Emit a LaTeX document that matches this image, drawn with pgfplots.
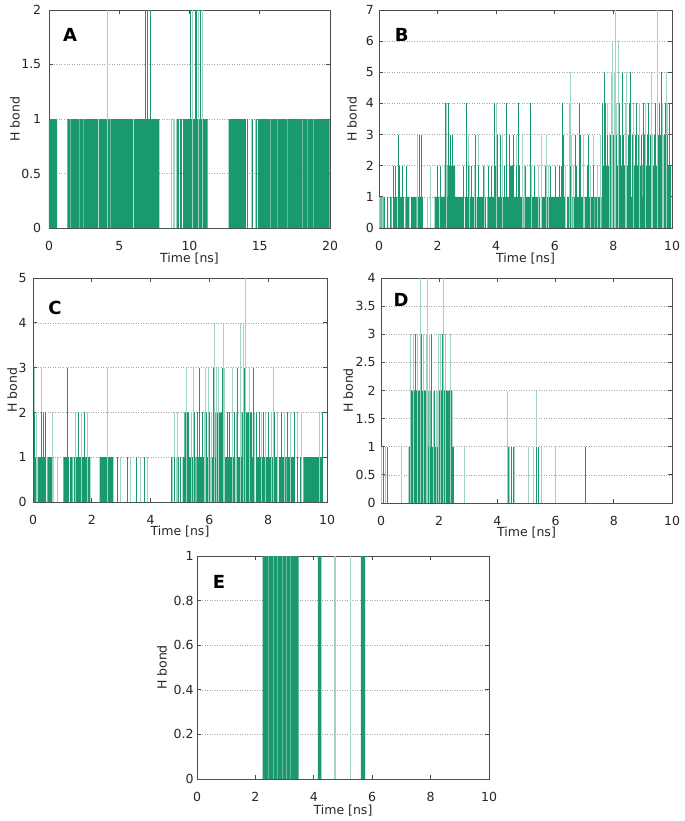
\documentclass[border=0pt]{standalone}
\usepackage{fontspec}
\setmainfont{DejaVu Sans}
\usepackage{pgfplots}
\pgfplotsset{compat=1.18}

\definecolor{hb}{RGB}{26,152,112}
\colorlet{hbl}{hb!42}
\colorlet{hbm}{hb!68}

\pgfplotsset{
  hbax/.style={
    scale only axis, anchor=north west,
    axis line style={black!70, line width=0.8bp},
    every tick/.style={black!70, line width=0.8bp},
    major tick length=4bp,
    ymajorgrids,
    grid style={black!35, line width=0.6bp, dash pattern=on 1bp off 1.5bp},
    tick label style={font=\fontsize{12.5bp}{14bp}\selectfont, text=black!85},
    xticklabel style={yshift=-9.8bp},
    label style={font=\fontsize{12.5bp}{14bp}\selectfont, text=black!85},
    /pgf/number format/assume math mode=true,
    xlabel={Time [ns]}, ylabel={H bond},
    xmin=0, xmax=10, xtick={0,2,...,10}, ymin=0,
  },
  fl/.style={const plot, fill=hb, draw=none},
  dk/.style={ycomb, color=hb, line width=1bp},
  lt/.style={ycomb, color=hbl, line width=1bp},
  md/.style={ycomb, color=hbm, line width=0.8bp},
}
\tikzset{letter/.style={font=\fontsize{18bp}{20bp}\selectfont\bfseries, text=black}}

\begin{document}
\begin{tikzpicture}
\useasboundingbox (0,0) rectangle (685bp,-821bp);

% ---------------- A ----------------
\begin{axis}[hbax, at={(49bp,-10bp)}, width=281bp, height=218bp,
  xmax=20, xtick={0,5,...,20}, ymax=2, ytick={0,0.5,1,1.5,2},
  yticklabel style={xshift=-4.3bp},
  xlabel style={at={(axis description cs:0.5,-0.138)}, anchor=center},
  ylabel style={at={(axis description cs:-0.121,0.5)}, anchor=center}]
\addplot[fl] coordinates {(0,1)(0.57,0)(1.31,1)(1.52,0)(1.56,1)(3.48,0)(3.54,1)
  (4.38,0)(4.43,1)(5.97,0)(6.02,1)(7.86,0)(9.55,1)(11.29,0)(12.79,1)(14.02,0)
  (14.86,1)(15.74,0)(15.78,1)(18.00,0)(18.04,1)(19.98,0)(20,0)} \closedcycle;
\addplot[md] coordinates {(2.14,1)(2.43,1)(16.24,1)(16.95,1)(18.38,1)(18.79,1)};
\addplot[lt] coordinates {(8.74,1)(8.83,1)(8.95,1)(9.05,1)(14.38,1)(14.70,1)
  (4.14,2)(10.19,2)(10.67,2)(10.90,2)};
\addplot[dk] coordinates {(9.17,1)(9.25,1)(9.35,1)(9.45,1)(14.14,1)(14.50,1)(14.78,1)
  (6.88,2)(6.98,2)(7.19,2)(10.05,2)(10.40,2)(10.52,2)(10.79,2)};
\node[letter] at (rel axis cs:0.075,0.885) {A};
\end{axis}

% ---------------- B ----------------
\begin{axis}[hbax, at={(379bp,-10bp)}, width=293bp, height=218bp,
  ymax=7, ytick={0,...,7},
  yticklabel style={xshift=-1.7bp},
  xlabel style={at={(axis description cs:0.5,-0.138)}, anchor=center},
  ylabel style={at={(axis description cs:-0.092,0.5)}, anchor=center}]
\addplot[fl] coordinates {(0,0)(0.05,1)(0.09,0)(0.15,1)(0.20,0)(0.28,1)(0.31,0)
  (0.38,1)(0.43,0)(0.50,1)(0.63,0)(0.66,1)(0.85,0)(0.90,1)(1.04,0)(1.10,1)(1.28,0)
  (1.33,1)(1.50,0)(1.90,1)(2.05,0)(2.08,1)(2.24,2)(2.30,1)(2.33,2)(2.60,1)(2.90,0)
  (2.93,1)(3.30,0)(3.33,1)(3.65,0)(3.70,1)(3.95,2)(4.05,1)(4.20,0)(4.23,1)(4.45,2)
  (4.60,1)(4.90,0)(4.93,1)(5.50,0)(5.53,1)(6.00,0)(6.03,1)(6.38,0)(6.42,1)(6.60,0)
  (6.62,1)(7.00,0)(7.03,1)(7.30,0)(7.35,1)(7.58,0)(7.60,1)(7.62,2)(7.70,1)(7.75,2)
  (8.20,1)(8.24,2)(8.60,1)(8.63,2)(9.00,1)(9.04,2)(9.30,1)(9.33,2)(9.97,0)(10,0)} \closedcycle;
\addplot[lt] coordinates {(0.02,1)(0.12,1)(1.65,1)
  (1.75,2)(3.10,2)(3.25,2)(3.60,2)(4.95,2)(5.20,2)(5.45,2)(5.78,2)(6.35,2)(6.64,2)
  (6.98,2)(7.21,2)(7.45,2)
  (1.33,3)(2.27,3)(3.05,3)(3.40,3)(3.93,3)(4.22,3)(4.68,3)(4.90,3)(5.55,3)(5.70,3)
  (6.58,3)(6.98,3)(7.32,3)(7.55,3)(7.85,3)(8.05,3)(8.40,3)(8.58,3)(8.90,3)(9.10,3)
  (9.35,3)(9.70,3)
  (2.31,4)(4.00,4)(6.50,4)(7.80,4)(7.92,4)(8.12,4)(8.40,4)(8.68,4)(8.90,4)(9.10,4)
  (9.30,4)(9.68,4)(9.85,4)
  (6.54,5)(7.94,5)(8.03,5)(8.17,5)(8.45,5)(9.31,5)(9.82,5)
  (7.96,6)(8.17,6)(8.08,7)(9.51,7)};
\addplot[dk] coordinates {
  (0.48,2)(0.57,2)(0.69,2)(0.80,2)(0.95,2)(1.37,2)(1.45,2)(2.00,2)(2.10,2)(2.90,2)
  (3.05,2)(3.15,2)(3.40,2)(3.55,2)(3.75,2)(3.85,2)(4.15,2)(4.30,2)(4.70,2)(4.80,2)
  (5.00,2)(5.30,2)(5.67,2)(5.84,2)(6.01,2)(6.16,2)(6.24,2)(6.52,2)(6.75,2)(6.86,2)
  (7.10,2)(7.32,2)
  (0.68,3)(1.37,3)(1.46,3)(2.38,3)(2.44,3)(2.50,3)(3.31,3)(4.04,3)(4.16,3)(4.45,3)
  (4.60,3)(6.30,3)(6.70,3)(6.86,3)(7.15,3)(7.62,3)(7.70,3)(7.80,3)(7.90,3)(8.00,3)
  (8.10,3)(8.25,3)(8.35,3)(8.50,3)(8.65,3)(8.75,3)(8.85,3)(8.95,3)(9.05,3)(9.15,3)
  (9.28,3)(9.40,3)(9.55,3)(9.62,3)(9.75,3)(9.85,3)(9.93,3)
  (2.26,4)(2.36,4)(2.98,4)(3.95,4)(4.35,4)(4.77,4)(5.18,4)(6.26,4)(6.85,4)(7.62,4)
  (7.72,4)(8.22,4)(8.55,4)(8.78,4)(9.02,4)(9.20,4)(9.42,4)(9.56,4)(9.78,4)(9.90,4)
  (7.68,5)(8.31,5)(8.59,5)(9.65,5)};
\node[letter] at (rel axis cs:0.078,0.885) {B};
\end{axis}

% ---------------- C ----------------
\begin{axis}[hbax, at={(33bp,-278bp)}, width=294bp, height=224bp,
  ymax=5, ytick={0,...,5},
  yticklabel style={xshift=-3bp},
  xlabel style={at={(axis description cs:0.5,-0.134)}, anchor=center},
  ylabel style={at={(axis description cs:-0.071,0.5)}, anchor=center}]
\addplot[fl] coordinates {(0,0)(0.02,1)(0.12,0)(0.16,1)(0.45,0)(0.49,1)(0.69,0)
  (1.03,1)(1.22,0)(1.26,1)(1.35,0)(1.39,1)(1.95,0)(2.27,1)(2.73,0)(5.09,1)(5.15,2)
  (5.30,1)(5.53,0)(5.56,1)(6.03,0)(6.06,1)(6.20,2)(6.45,1)(6.88,0)(6.91,1)(7.10,2)
  (7.45,1)(7.55,0)(7.58,1)(8.33,0)(8.36,1)(8.63,0)(8.66,1)(8.91,0)(9.20,1)(9.83,0)
  (10,0)} \closedcycle;
\addplot[lt] coordinates {(0.85,1)(2.98,1)(3.32,1)(3.64,1)(3.89,1)(4.75,1)(4.88,1)
  (0.11,2)(0.66,2)(1.43,2)(1.66,2)(1.85,2)(4.80,2)(4.91,2)(5.38,2)(5.68,2)(5.82,2)
  (6.08,2)(6.92,2)(7.55,2)(7.78,2)(7.92,2)(8.10,2)(8.30,2)(8.55,2)(8.75,2)(9.00,2)
  (9.14,2)(9.75,2)
  (0.06,3)(0.29,3)(2.55,3)(5.23,3)(5.46,3)(5.87,3)(5.98,3)(6.24,3)(6.32,3)(6.50,3)
  (6.80,3)(7.06,3)(7.35,3)(8.17,3)
  (6.17,4)(6.49,4)(7.05,4)(7.15,4)(7.23,5)};
\addplot[dk] coordinates {(2.87,1)(3.21,1)(3.53,1)(3.78,1)(4.70,1)(4.80,1)(4.95,1)
  (5.03,1)(9.00,1)(9.10,1)
  (0.06,2)(0.30,2)(0.36,2)(0.42,2)(1.18,2)(1.54,2)(1.75,2)(5.20,2)(5.28,2)(5.50,2)
  (5.60,2)(5.75,2)(5.90,2)(6.00,2)(6.60,2)(6.70,2)(6.85,2)(7.60,2)(7.70,2)(7.85,2)
  (8.00,2)(8.20,2)(8.45,2)(8.65,2)(8.90,2)(9.83,2)
  (1.18,3)(5.65,3)(6.15,3)(6.44,3)(6.95,3)(7.18,3)(7.50,3)};
\node[letter] at (rel axis cs:0.075,0.866) {C};
\end{axis}

% ---------------- D ----------------
\begin{axis}[hbax, at={(381bp,-278bp)}, width=291bp, height=225bp,
  ymax=4, ytick={0,0.5,...,4},
  yticklabel style={xshift=-2bp},
  xlabel style={at={(axis description cs:0.5,-0.133)}, anchor=center},
  ylabel style={at={(axis description cs:-0.113,0.5)}, anchor=center}]
\addplot[fl] coordinates {(0,0)(0.95,1)(1.03,2)(1.64,1)(1.70,2)(1.74,1)(1.95,2)
  (2.45,1)(2.50,0)(10,0)} \closedcycle;
\addplot[lt] coordinates {(0.03,1)(0.15,1)(0.70,1)(2.86,1)(4.33,1)(4.43,1)(4.58,1)
  (5.07,1)(5.25,1)(5.53,1)(5.99,1)
  (1.68,2)(1.80,2)(1.90,2)(4.33,2)(5.36,2)
  (1.02,3)(1.11,3)(1.26,3)(1.45,3)(1.57,3)(1.68,3)(1.97,3)(2.03,3)(2.20,3)(2.39,3)
  (1.36,4)(1.59,4)(2.14,4)};
\addplot[dk] coordinates {(0.07,1)(0.24,1)(4.38,1)(4.48,1)(4.55,1)(5.36,1)(5.40,1)
  (7.04,1)(1.75,2)(1.85,2)(1.20,3)(1.40,3)(1.74,3)(2.12,3)};
\node[letter] at (rel axis cs:0.069,0.902) {D};
\end{axis}

% ---------------- E ----------------
\begin{axis}[hbax, at={(197bp,-556bp)}, width=292bp, height=223bp,
  ymax=1, ytick={0,0.2,0.4,0.6,0.8,1},
  yticklabel style={xshift=0bp},
  xlabel style={at={(axis description cs:0.5,-0.143)}, anchor=center},
  ylabel style={at={(axis description cs:-0.12,0.5)}, anchor=center}]
\addplot[fl] coordinates {(0,0)(2.25,1)(3.48,0)(4.14,1)(4.26,0)(5.61,1)(5.76,0)
  (10,0)} \closedcycle;
\addplot[md] coordinates {(2.46,1)(2.61,1)(2.75,1)(2.92,1)(3.06,1)(3.21,1)};
\addplot[ycomb, color=hbl, line width=1.6bp] coordinates {(4.72,1)(5.26,1)};
\node[letter] at (rel axis cs:0.075,0.883) {E};
\end{axis}
\end{tikzpicture}
\end{document}
